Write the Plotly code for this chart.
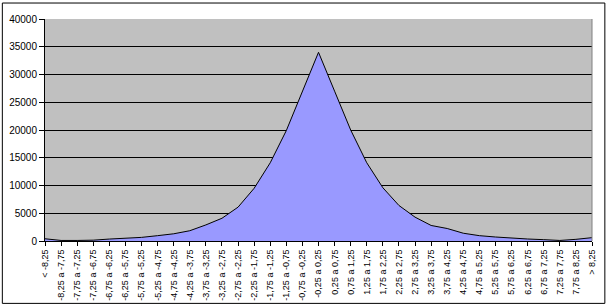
import plotly.graph_objects as go

# Category labels (intervals)
edges = ["8,25", "7,75", "7,25", "6,75", "6,25", "5,75", "5,25", "4,75", "4,25",
         "3,75", "3,25", "2,75", "2,25", "1,75", "1,25", "0,75", "0,25"]
neg = ["-" + e for e in edges]
pos = [e for e in reversed(edges)]
bounds = neg + pos  # -8,25 ... -0,25, 0,25 ... 8,25
categories = ["< -8,25"] + [f"{bounds[i]} a {bounds[i+1]}" for i in range(len(bounds) - 1)] + ["> 8,25"]

values = [400, 100, 100, 150, 350, 480, 650, 960, 1300, 1850, 2900, 4100, 6100, 9500,
          14100, 19900, 27000, 34000, 27000, 20000, 14100, 9600, 6400, 4300, 2800, 2250,
          1400, 960, 720, 480, 360, 240, 100, 300, 600]

y_ticks = [0, 5000, 10000, 15000, 20000, 25000, 30000, 35000, 40000]

fig = go.Figure()
fig.add_trace(go.Scatter(
    x=categories, y=values, mode="lines", fill="tozeroy",
    fillcolor="#9999FF", line=dict(color="black", width=1),
    hoverinfo="x+y", showlegend=False,
))

fig.update_layout(
    width=609, height=307,
    margin=dict(l=45, r=17, t=19, b=66),
    paper_bgcolor="white",
    plot_bgcolor="#C0C0C0",
    font=dict(family="Liberation Sans, Arial, sans-serif", color="black"),
    xaxis=dict(
        type="category", range=[0, len(categories) - 1],
        tickangle=-90, tickfont=dict(size=9),
        ticks="outside", ticklen=4, tickcolor="black",
        showline=True, linecolor="black", linewidth=1,
        showgrid=False, zeroline=False, automargin=False,
    ),
    yaxis=dict(
        range=[0, 40000], tickvals=y_ticks,
        ticktext=[str(v) for v in y_ticks],
        tickfont=dict(size=10),
        ticks="outside", ticklen=5, tickcolor="black",
        showline=True, linecolor="black", linewidth=1,
        showgrid=True, gridcolor="black", gridwidth=1,
        zeroline=False, automargin=False,
    ),
    shapes=[
        # plot-area border (right edge gray)
        dict(type="line", xref="paper", yref="paper", x0=1, x1=1, y0=0, y1=1,
             line=dict(color="#808080", width=1)),
        # outer chart frame
        dict(type="rect", xref="paper", yref="paper",
             x0=-0.078, x1=1.0235, y0=-0.281, y1=1.072,
             line=dict(color="black", width=1), layer="below"),
    ],
)

fig.write_html("out.html")
